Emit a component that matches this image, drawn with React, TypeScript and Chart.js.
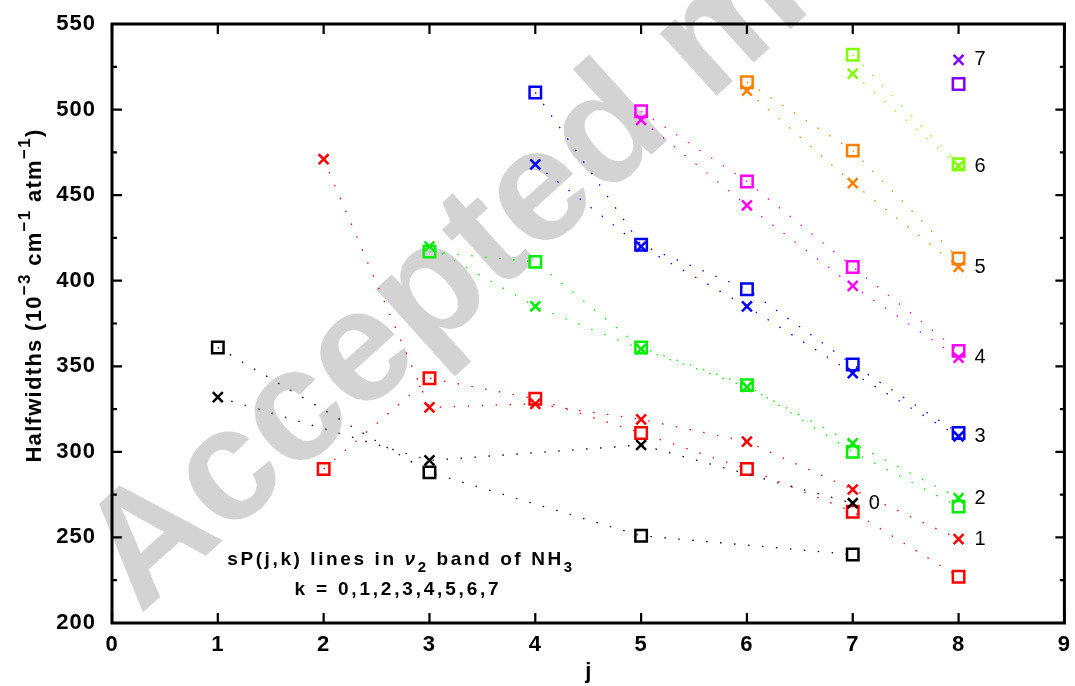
import React, { useEffect, useRef } from "react";
import { Chart, registerables } from "chart.js";

Chart.register(...registerables);

// Rotational quantum number j of each measured line, one list per k
const jK0 = [1, 3, 5, 7];
const jK1 = [2, 3, 4, 5, 6, 7, 8];
const jK2 = [3, 4, 5, 6, 7, 8];
const jK3 = [4, 5, 6, 7, 8];
const jK4 = [5, 6, 7, 8];
const jK5 = [6, 7, 8];
const jK6 = [7, 8];
const jK7 = [8];

// Halfwidths (10^-3 cm^-1 atm^-1) drawn as open squares
const squaresK0 = [361, 288, 251, 240];
const squaresK1 = [290, 343, 331, 311, 290, 265, 227];
const squaresK2 = [417, 411, 361, 339, 300, 268];
const squaresK3 = [510, 421, 395, 351, 311];
const squaresK4 = [499, 458, 408, 359];
const squaresK5 = [516, 476, 413];
const squaresK6 = [532, 468];
const squaresK7 = [515];

// Halfwidths drawn as crosses
const crossesK0 = [332, 295, 304, 270];
const crossesK1 = [471, 326, 328, 319, 306, 278, 249];
const crossesK2 = [420, 385, 360, 338, 305, 273];
const crossesK3 = [468, 420, 385, 346, 309];
const crossesK4 = [494, 444, 397, 355];
const crossesK5 = [511, 457, 408];
const crossesK6 = [521, 467];
const crossesK7 = [529];

const kLabels = ["0", "1", "2", "3", "4", "5", "6", "7"];
const kColors = ["#000000", "#ff0000", "#00ee00", "#0000ff", "#ff00ff", "#ff8000", "#80ff00", "#8000ff"];

const xTickValues = [0, 1, 2, 3, 4, 5, 6, 7, 8, 9];
const yTickValues = [200, 250, 300, 350, 400, 450, 500, 550];
const yMinorTickValues = [225, 275, 325, 375, 425, 475, 525];

const FONT = '"Liberation Sans", Arial, Helvetica, sans-serif';

const jGroups = [jK0, jK1, jK2, jK3, jK4, jK5, jK6, jK7];
const squareGroups = [squaresK0, squaresK1, squaresK2, squaresK3, squaresK4, squaresK5, squaresK6, squaresK7];
const crossGroups = [crossesK0, crossesK1, crossesK2, crossesK3, crossesK4, crossesK5, crossesK6, crossesK7];

type Seg = { text: string; shift?: "sup" | "sub"; italic?: boolean };

function segFont(seg: Seg, size: number, weight: string) {
  const s = seg.shift ? Math.round(size * 0.78) : size;
  return `${seg.italic ? "italic " : ""}${weight} ${s}px ${FONT}`;
}

// Draws a run of text pieces with super/subscripts on one baseline.
function drawRich(
  ctx: CanvasRenderingContext2D,
  segs: Seg[],
  x: number,
  y: number,
  size: number,
  weight: string,
  spacing: number,
  align: "center" | "left"
) {
  const c = ctx as any;
  ctx.textAlign = "left";
  ctx.textBaseline = "alphabetic";
  c.letterSpacing = `${spacing}px`;
  const widths = segs.map((s) => {
    ctx.font = segFont(s, size, weight);
    return ctx.measureText(s.text).width;
  });
  const total = widths.reduce((a, b) => a + b, 0);
  let cx = align === "center" ? x - total / 2 : x;
  segs.forEach((s, i) => {
    ctx.font = segFont(s, size, weight);
    const dy = s.shift === "sup" ? -size * 0.5 : s.shift === "sub" ? size * 0.38 : 0;
    ctx.fillText(s.text, cx, y + dy);
    cx += widths[i];
  });
  c.letterSpacing = "0px";
}

const watermarkPlugin = {
  id: "watermark",
  beforeDatasetsDraw(chart: any) {
    const { ctx } = chart;
    ctx.save();
    ctx.translate(140, 615);
    ctx.rotate((-42 * Math.PI) / 180);
    ctx.fillStyle = "#d3d3d3";
    ctx.font = `bold 160px ${FONT}`;
    ctx.textAlign = "left";
    ctx.textBaseline = "alphabetic";
    ctx.fillText("Accepted manuscript", 0, 0);
    ctx.restore();
  },
};

const framePlugin = {
  id: "frameAndText",
  afterDatasetsDraw(chart: any) {
    const { ctx, chartArea: a, scales } = chart;
    const xs = scales.x;
    const ys = scales.y;
    ctx.save();
    ctx.strokeStyle = "#000";
    ctx.fillStyle = "#000";

    // ticks, pointing inward on all four sides
    ctx.lineWidth = 2.2;
    ctx.beginPath();
    xTickValues.forEach((t) => {
      const px = xs.getPixelForValue(t);
      ctx.moveTo(px, a.bottom);
      ctx.lineTo(px, a.bottom - 10);
      ctx.moveTo(px, a.top);
      ctx.lineTo(px, a.top + 10);
    });
    yTickValues.forEach((t) => {
      const py = ys.getPixelForValue(t);
      ctx.moveTo(a.left, py);
      ctx.lineTo(a.left + 10, py);
      ctx.moveTo(a.right, py);
      ctx.lineTo(a.right - 9, py);
    });
    yMinorTickValues.forEach((t) => {
      const py = ys.getPixelForValue(t);
      ctx.moveTo(a.left, py);
      ctx.lineTo(a.left + 5, py);
      ctx.moveTo(a.right, py);
      ctx.lineTo(a.right - 4.5, py);
    });
    ctx.stroke();

    // frame
    ctx.lineWidth = 3;
    ctx.lineJoin = "miter";
    ctx.strokeRect(a.left, a.top, a.right - a.left, a.bottom - a.top);

    // tick labels
    const c = ctx as any;
    ctx.font = `bold 22px ${FONT}`;
    c.letterSpacing = "1px";
    ctx.textBaseline = "middle";
    ctx.textAlign = "right";
    yTickValues.forEach((t) => {
      ctx.fillText(String(t), a.left - 16, ys.getPixelForValue(t));
    });
    ctx.textAlign = "center";
    xTickValues.forEach((t) => {
      ctx.fillText(String(t), xs.getPixelForValue(t), a.bottom + 22);
    });
    c.letterSpacing = "0px";

    // axis titles
    drawRich(ctx, [{ text: "j" }], (a.left + a.right) / 2, a.bottom + 55, 22, "bold", 0, "center");
    ctx.save();
    ctx.translate(41, (a.top + a.bottom) / 2 - 28);
    ctx.rotate(-Math.PI / 2);
    drawRich(
      ctx,
      [
        { text: "Halfwidths (10" },
        { text: "\u2212" + "3", shift: "sup" },
        { text: " cm" },
        { text: "\u2212" + "1", shift: "sup" },
        { text: " atm" },
        { text: "\u2212" + "1", shift: "sup" },
        { text: ")" },
      ],
      0,
      0,
      22,
      "bold",
      1.3,
      "center"
    );
    ctx.restore();

    // annotation
    drawRich(
      ctx,
      [
        { text: "sP(j,k) lines in " },
        { text: "\u03bd", italic: true },
        { text: "2", shift: "sub" },
        { text: " band of NH" },
        { text: "3", shift: "sub" },
      ],
      401,
      565,
      19,
      "bold",
      2.6,
      "center"
    );
    drawRich(ctx, [{ text: "k = 0,1,2,3,4,5,6,7" }], 398, 595, 19, "bold", 2.8, "center");

    // k labels beside the last cross of each sub-band
    ctx.font = `20px ${FONT}`;
    ctx.textAlign = "left";
    ctx.textBaseline = "middle";
    kLabels.forEach((lab, k) => {
      const js = jGroups[k];
      const cs = crossGroups[k];
      const last = js.length - 1;
      ctx.fillText(lab, xs.getPixelForValue(js[last]) + 16, ys.getPixelForValue(cs[last]));
    });
    ctx.restore();
  },
};

export default function App() {
  const canvasRef = useRef<HTMLCanvasElement | null>(null);

  useEffect(() => {
    const canvas = canvasRef.current;
    if (!canvas) return;

    const datasets: any[] = [];
    kColors.forEach((color, k) => {
      const js = jGroups[k];
      datasets.push({
        label: `k=${k} squares`,
        data: js.map((j, i) => ({ x: j, y: squareGroups[k][i] })),
        showLine: true,
        borderColor: color,
        borderWidth: 1.3,
        borderDash: [1.5, 12.5],
        pointStyle: "rect",
        pointRadius: 8.1,
        pointBorderWidth: 2.5,
        pointBorderColor: color,
        pointBackgroundColor: "rgba(0,0,0,0)",
      });
      datasets.push({
        label: `k=${k} crosses`,
        data: js.map((j, i) => ({ x: j, y: crossGroups[k][i] })),
        showLine: true,
        borderColor: color,
        borderWidth: 1.3,
        borderDash: [1.5, 12.5],
        pointStyle: "crossRot",
        pointRadius: 7,
        pointBorderWidth: 2.5,
        pointBorderColor: color,
        pointBackgroundColor: "rgba(0,0,0,0)",
      });
    });

    const chart = new Chart(canvas, {
      type: "scatter",
      data: { datasets },
      options: {
        responsive: false,
        animation: false,
        events: [],
        layout: { padding: { left: 112, right: 6, top: 24, bottom: 63 } },
        plugins: { legend: { display: false }, tooltip: { enabled: false } },
        scales: {
          x: { type: "linear", min: 0, max: 9, display: false },
          y: { type: "linear", min: 200, max: 550, display: false },
        },
      },
      plugins: [watermarkPlugin, framePlugin],
    });
    return () => chart.destroy();
  }, []);

  return (
    <div style={{ position: "absolute", left: 0, top: 0, width: 1075, height: 686, background: "#fff" }}>
      <canvas ref={canvasRef} width={1075} height={686} style={{ display: "block" }} />
    </div>
  );
}
